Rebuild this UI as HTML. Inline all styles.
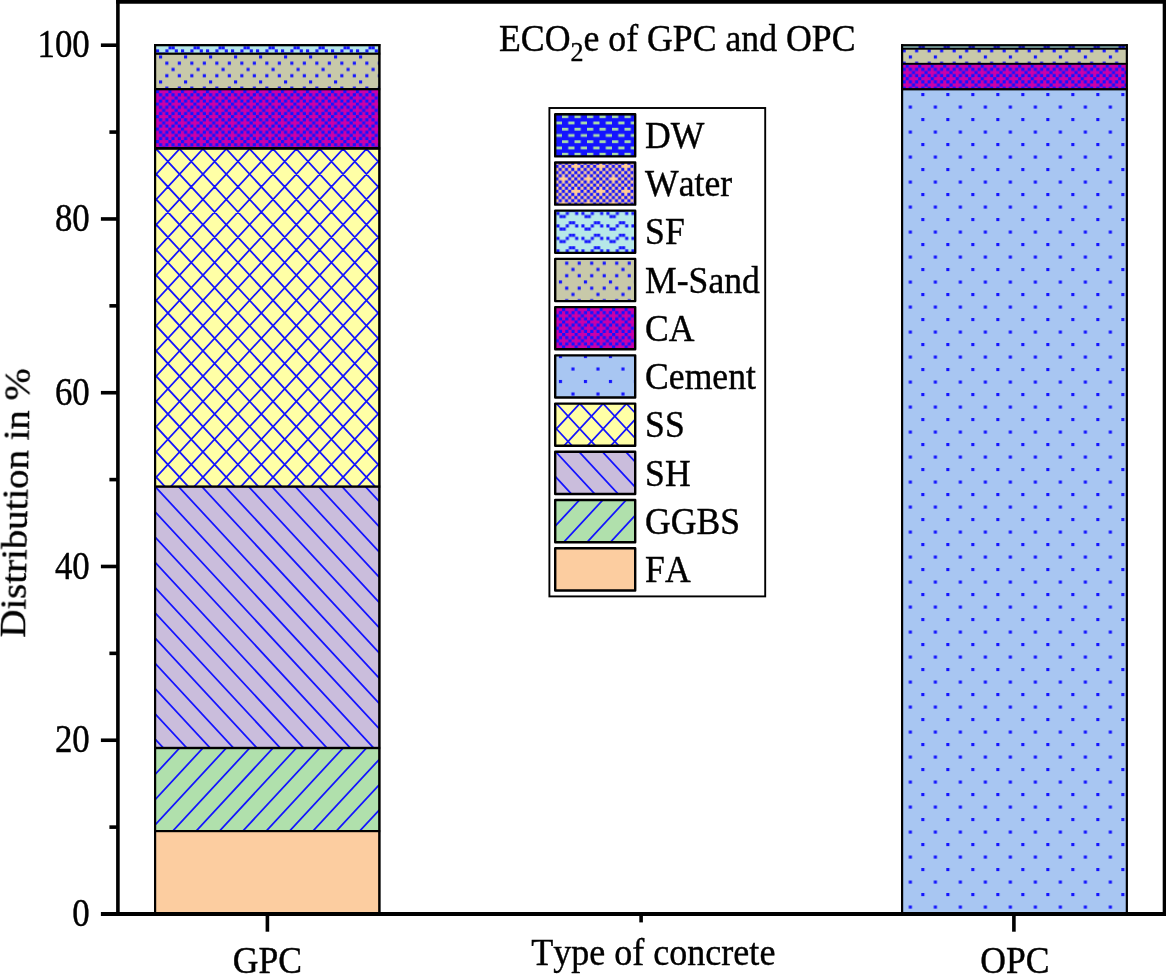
<!DOCTYPE html>
<html lang="en"><head><meta charset="utf-8"><title>ECO2e of GPC and OPC</title>
<style>
html,body{margin:0;padding:0;background:#fff;overflow:hidden}
svg{display:block;font-family:"Liberation Serif",serif}
</style></head><body>
<svg width="1166" height="974" viewBox="0 0 1166 974">
<defs>
<pattern id="pMS" patternUnits="userSpaceOnUse" width="25" height="25"><rect width="25" height="25" fill="#c8c9a9"/><rect x="0.000" y="0.000" width="3.125" height="3.125" fill="#1414ff"/><rect x="6.250" y="6.250" width="3.125" height="3.125" fill="#1414ff"/><rect x="18.750" y="6.250" width="3.125" height="3.125" fill="#1414ff"/><rect x="12.500" y="12.500" width="3.125" height="3.125" fill="#1414ff"/><rect x="6.250" y="18.750" width="3.125" height="3.125" fill="#1414ff"/><rect x="18.750" y="18.750" width="3.125" height="3.125" fill="#1414ff"/></pattern>
<pattern id="pCA" patternUnits="userSpaceOnUse" width="12.5" height="12.5"><rect width="12.5" height="12.5" fill="#c800aa"/><rect x="0.000" y="0.000" width="3.125" height="3.125" fill="#1414ff"/><rect x="3.125" y="3.125" width="3.125" height="3.125" fill="#1414ff"/><rect x="9.375" y="3.125" width="3.125" height="3.125" fill="#1414ff"/><rect x="6.250" y="6.250" width="3.125" height="3.125" fill="#1414ff"/><rect x="3.125" y="9.375" width="3.125" height="3.125" fill="#1414ff"/><rect x="9.375" y="9.375" width="3.125" height="3.125" fill="#1414ff"/></pattern>
<pattern id="pCE" patternUnits="userSpaceOnUse" width="25" height="25"><rect width="25" height="25" fill="#a8c6f2"/><rect x="0.000" y="0.000" width="3.125" height="3.125" fill="#1414ff"/><rect x="12.500" y="12.500" width="3.125" height="3.125" fill="#1414ff"/></pattern>
<pattern id="pDW" patternUnits="userSpaceOnUse" width="12.5" height="12.5"><rect width="12.5" height="12.5" fill="#1414ff"/><rect x="0" y="0" width="6.25" height="2.812" fill="#a9dba7"/><rect x="6.25" y="6.25" width="6.25" height="2.812" fill="#a9dba7"/></pattern>
<pattern id="pWA" patternUnits="userSpaceOnUse" width="25" height="25"><rect width="25" height="25" fill="#fdcb98"/><rect x="6.250" y="0.000" width="3.125" height="3.125" fill="#1414ff"/><rect x="12.500" y="0.000" width="3.125" height="3.125" fill="#1414ff"/><rect x="18.750" y="0.000" width="3.125" height="3.125" fill="#1414ff"/><rect x="3.125" y="3.125" width="3.125" height="3.125" fill="#1414ff"/><rect x="9.375" y="3.125" width="3.125" height="3.125" fill="#1414ff"/><rect x="15.625" y="3.125" width="3.125" height="3.125" fill="#1414ff"/><rect x="21.875" y="3.125" width="3.125" height="3.125" fill="#1414ff"/><rect x="0.000" y="6.250" width="3.125" height="3.125" fill="#1414ff"/><rect x="6.250" y="6.250" width="3.125" height="3.125" fill="#1414ff"/><rect x="12.500" y="6.250" width="3.125" height="3.125" fill="#1414ff"/><rect x="18.750" y="6.250" width="3.125" height="3.125" fill="#1414ff"/><rect x="3.125" y="9.375" width="3.125" height="3.125" fill="#1414ff"/><rect x="9.375" y="9.375" width="3.125" height="3.125" fill="#1414ff"/><rect x="15.625" y="9.375" width="3.125" height="3.125" fill="#1414ff"/><rect x="21.875" y="9.375" width="3.125" height="3.125" fill="#1414ff"/><rect x="0.000" y="12.500" width="3.125" height="3.125" fill="#1414ff"/><rect x="6.250" y="12.500" width="3.125" height="3.125" fill="#1414ff"/><rect x="18.750" y="12.500" width="3.125" height="3.125" fill="#1414ff"/><rect x="3.125" y="15.625" width="3.125" height="3.125" fill="#1414ff"/><rect x="9.375" y="15.625" width="3.125" height="3.125" fill="#1414ff"/><rect x="15.625" y="15.625" width="3.125" height="3.125" fill="#1414ff"/><rect x="21.875" y="15.625" width="3.125" height="3.125" fill="#1414ff"/><rect x="0.000" y="18.750" width="3.125" height="3.125" fill="#1414ff"/><rect x="6.250" y="18.750" width="3.125" height="3.125" fill="#1414ff"/><rect x="12.500" y="18.750" width="3.125" height="3.125" fill="#1414ff"/><rect x="18.750" y="18.750" width="3.125" height="3.125" fill="#1414ff"/><rect x="3.125" y="21.875" width="3.125" height="3.125" fill="#1414ff"/><rect x="9.375" y="21.875" width="3.125" height="3.125" fill="#1414ff"/><rect x="15.625" y="21.875" width="3.125" height="3.125" fill="#1414ff"/><rect x="21.875" y="21.875" width="3.125" height="3.125" fill="#1414ff"/></pattern>
<pattern id="pSF" patternUnits="userSpaceOnUse" width="25" height="12.5"><rect width="25" height="12.5" fill="#b6e8e8"/><rect x="12.500" y="0.000" width="3.125" height="3.125" fill="#1414ff"/><rect x="15.625" y="0.000" width="3.125" height="3.125" fill="#1414ff"/><rect x="0.000" y="3.125" width="3.125" height="3.125" fill="#1414ff"/><rect x="9.375" y="3.125" width="3.125" height="3.125" fill="#1414ff"/><rect x="18.750" y="3.125" width="3.125" height="3.125" fill="#1414ff"/><rect x="3.125" y="6.250" width="3.125" height="3.125" fill="#1414ff"/><rect x="6.250" y="6.250" width="3.125" height="3.125" fill="#1414ff"/></pattern>
<pattern id="pSFd" patternUnits="userSpaceOnUse" width="25" height="12.5"><rect width="25" height="12.5" fill="#6f9090"/><rect x="12.500" y="0.000" width="3.125" height="3.125" fill="#10109a"/><rect x="15.625" y="0.000" width="3.125" height="3.125" fill="#10109a"/><rect x="0.000" y="3.125" width="3.125" height="3.125" fill="#10109a"/><rect x="9.375" y="3.125" width="3.125" height="3.125" fill="#10109a"/><rect x="18.750" y="3.125" width="3.125" height="3.125" fill="#10109a"/><rect x="3.125" y="6.250" width="3.125" height="3.125" fill="#10109a"/><rect x="6.250" y="6.250" width="3.125" height="3.125" fill="#10109a"/></pattern>
<clipPath id="clip1"><rect x="155.10" y="748.00" width="224.30" height="83.10"/></clipPath>
<clipPath id="clip2"><rect x="155.10" y="486.60" width="224.30" height="261.40"/></clipPath>
<clipPath id="clip3"><rect x="155.10" y="148.40" width="224.30" height="338.20"/></clipPath>
<pattern id="pCA_1" href="#pCA" patternTransform="translate(155.90 90.10)"/>
<pattern id="pMS_2" href="#pMS" patternTransform="translate(159.03 55.40)"/>
<pattern id="pSF_3" href="#pSF" patternTransform="translate(156.00 46.30)"/>
<pattern id="pCE_4" href="#pCE" patternTransform="translate(921.30 93.00)"/>
<pattern id="pCA_5" href="#pCA" patternTransform="translate(905.70 64.70)"/>
<pattern id="pMS_6" href="#pMS" patternTransform="translate(908.84 55.44)"/>
<pattern id="pSFd_7" href="#pSFd" patternTransform="translate(906.10 46.00)"/>
<pattern id="pDW_8" href="#pDW" patternTransform="translate(562.00 115.30)"/>
<pattern id="pWA_9" href="#pWA" patternTransform="translate(574.30 164.77)"/>
<pattern id="pSF_10" href="#pSF" patternTransform="translate(556.40 208.73)"/>
<pattern id="pMS_11" href="#pMS" patternTransform="translate(558.90 255.39)"/>
<pattern id="pCA_12" href="#pCA" patternTransform="translate(562.10 307.97)"/>
<pattern id="pCE_13" href="#pCE" patternTransform="translate(558.90 354.95)"/>
<clipPath id="clip4"><rect x="555.20" y="403.58" width="80.00" height="42.20"/></clipPath>
<clipPath id="clip5"><rect x="555.20" y="451.81" width="80.00" height="42.20"/></clipPath>
<clipPath id="clip6"><rect x="555.20" y="500.04" width="80.00" height="42.20"/></clipPath>
</defs>
<rect width="1166" height="974" fill="#fff"/>
<rect x="155.10" y="831.10" width="224.30" height="82.90" fill="#fccda0"/>
<rect x="155.10" y="748.00" width="224.30" height="83.10" fill="#b0e0ac"/>
<path clip-path="url(#clip1)" d="M155.10 749.19L379.40 506.74M155.10 774.44L379.40 531.99M155.10 799.69L379.40 557.24M155.10 824.94L379.40 582.49M155.10 850.19L379.40 607.74M155.10 875.44L379.40 632.99M155.10 900.69L379.40 658.24M155.10 925.94L379.40 683.49M155.10 951.19L379.40 708.74M155.10 976.44L379.40 733.99M155.10 1001.69L379.40 759.24M155.10 1026.94L379.40 784.49M155.10 1052.19L379.40 809.74" stroke="#1414ff" stroke-width="1.75" fill="none"/>
<rect x="155.10" y="486.60" width="224.30" height="261.40" fill="#cabddc"/>
<path clip-path="url(#clip2)" d="M155.10 259.26L379.40 501.71M155.10 284.51L379.40 526.96M155.10 309.76L379.40 552.21M155.10 335.01L379.40 577.46M155.10 360.26L379.40 602.71M155.10 385.51L379.40 627.96M155.10 410.76L379.40 653.21M155.10 436.01L379.40 678.46M155.10 461.26L379.40 703.71M155.10 486.51L379.40 728.96M155.10 511.76L379.40 754.21M155.10 537.01L379.40 779.46M155.10 562.26L379.40 804.71M155.10 587.51L379.40 829.96M155.10 612.76L379.40 855.21M155.10 638.01L379.40 880.46M155.10 663.26L379.40 905.71M155.10 688.51L379.40 930.96M155.10 713.76L379.40 956.21M155.10 739.01L379.40 981.46" stroke="#1414ff" stroke-width="1.75" fill="none"/>
<rect x="155.10" y="148.40" width="224.30" height="338.20" fill="#ffffa6"/>
<path clip-path="url(#clip3)" d="M155.10 -79.54L379.40 162.91M155.10 -54.29L379.40 188.16M155.10 -29.04L379.40 213.41M155.10 -3.79L379.40 238.66M155.10 21.46L379.40 263.91M155.10 46.71L379.40 289.16M155.10 71.96L379.40 314.41M155.10 97.21L379.40 339.66M155.10 122.46L379.40 364.91M155.10 147.71L379.40 390.16M155.10 172.96L379.40 415.41M155.10 198.21L379.40 440.66M155.10 223.46L379.40 465.91M155.10 248.71L379.40 491.16M155.10 273.96L379.40 516.41M155.10 299.21L379.40 541.66M155.10 324.46L379.40 566.91M155.10 349.71L379.40 592.16M155.10 374.96L379.40 617.41M155.10 400.21L379.40 642.66M155.10 425.46L379.40 667.91M155.10 450.71L379.40 693.16M155.10 475.96L379.40 718.41M155.10 150.09L379.40 -92.36M155.10 175.34L379.40 -67.11M155.10 200.59L379.40 -41.86M155.10 225.84L379.40 -16.61M155.10 251.09L379.40 8.64M155.10 276.34L379.40 33.89M155.10 301.59L379.40 59.14M155.10 326.84L379.40 84.39M155.10 352.09L379.40 109.64M155.10 377.34L379.40 134.89M155.10 402.59L379.40 160.14M155.10 427.84L379.40 185.39M155.10 453.09L379.40 210.64M155.10 478.34L379.40 235.89M155.10 503.59L379.40 261.14M155.10 528.84L379.40 286.39M155.10 554.09L379.40 311.64M155.10 579.34L379.40 336.89M155.10 604.59L379.40 362.14M155.10 629.84L379.40 387.39M155.10 655.09L379.40 412.64M155.10 680.34L379.40 437.89M155.10 705.59L379.40 463.14M155.10 730.84L379.40 488.39" stroke="#1414ff" stroke-width="1.75" fill="none"/>
<rect x="155.10" y="89.15" width="224.30" height="59.25" fill="url(#pCA_1)"/>
<rect x="155.10" y="53.70" width="224.30" height="35.45" fill="url(#pMS_2)"/>
<rect x="155.10" y="45.15" width="224.30" height="8.55" fill="url(#pSF_3)"/>
<rect x="154.40" y="830.00" width="225.85" height="2.20" fill="#000"/>
<rect x="154.40" y="746.80" width="225.85" height="2.40" fill="#000"/>
<rect x="154.40" y="485.40" width="225.85" height="2.40" fill="#000"/>
<rect x="154.40" y="147.00" width="225.85" height="2.80" fill="#000"/>
<rect x="154.40" y="88.00" width="225.85" height="2.30" fill="#000"/>
<rect x="154.40" y="52.60" width="225.85" height="2.20" fill="#000"/>
<rect x="154.40" y="44.00" width="225.85" height="2.30" fill="#000"/>
<rect x="154.00" y="44.00" width="2.20" height="870.00" fill="#000"/>
<rect x="378.15" y="44.00" width="2.50" height="870.00" fill="#000"/>
<rect x="902.10" y="89.25" width="224.75" height="824.75" fill="url(#pCE_4)"/>
<rect x="902.10" y="63.80" width="224.75" height="25.45" fill="url(#pCA_5)"/>
<rect x="902.10" y="48.85" width="224.75" height="14.95" fill="url(#pMS_6)"/>
<rect x="902.10" y="45.10" width="224.75" height="3.75" fill="url(#pSFd_7)"/>
<rect x="901.40" y="88.10" width="226.15" height="2.30" fill="#000"/>
<rect x="901.40" y="62.85" width="226.15" height="1.90" fill="#000"/>
<rect x="901.40" y="48.00" width="226.15" height="1.70" fill="#000"/>
<rect x="901.40" y="44.10" width="226.15" height="2.00" fill="#000"/>
<rect x="901.00" y="44.10" width="2.20" height="869.90" fill="#000"/>
<rect x="1125.75" y="44.10" width="2.20" height="869.90" fill="#000"/>
<g stroke="#000" stroke-width="3.6" fill="none" stroke-linecap="butt">
<path d="M117.9 0V915.8"/>
<path d="M116.1 1.9H1166"/>
<path d="M1164.5 0V915.8"/>
<path d="M100.9 913.9H1166" stroke-width="4"/>
<path d="M100.9 740.24H117"/>
<path d="M100.9 566.48H117"/>
<path d="M100.9 392.72H117"/>
<path d="M100.9 218.96H117"/>
<path d="M100.9 45.20H117"/>
<path d="M109.4 827.12H117"/>
<path d="M109.4 653.36H117"/>
<path d="M109.4 479.60H117"/>
<path d="M109.4 305.84H117"/>
<path d="M109.4 132.08H117"/>
<path d="M267.4 914V931.7"/>
<path d="M1013.9 914V931.7"/>
<path d="M641.1 914V922.4"/>
</g>
<g font-family="'Liberation Serif', serif" fill="#000" stroke="#000" stroke-width="0.4" opacity="0.999" style="font-kerning:none;font-variant-ligatures:none">
<text transform="translate(89.70 926.20) scale(1 1.13)" font-size="34.8" text-anchor="end" >0</text>
<text transform="translate(89.70 752.44) scale(1 1.13)" font-size="34.8" text-anchor="end" >20</text>
<text transform="translate(89.70 578.68) scale(1 1.13)" font-size="34.8" text-anchor="end" >40</text>
<text transform="translate(89.70 404.92) scale(1 1.13)" font-size="34.8" text-anchor="end" >60</text>
<text transform="translate(89.70 231.16) scale(1 1.13)" font-size="34.8" text-anchor="end" >80</text>
<text transform="translate(89.70 57.40) scale(1 1.13)" font-size="34.8" text-anchor="end" >100</text>
<text transform="translate(499.00 50.50) scale(1 1.05)" font-size="35.75" text-anchor="start" >ECO<tspan font-size="26" dy="10.2">2</tspan><tspan dy="-10.2">e of GPC and OPC</tspan></text>
<text transform="translate(267.40 973.20) scale(1 1.05)" font-size="35.6" text-anchor="middle" >GPC</text>
<text transform="translate(1014.90 973.20) scale(1 1.05)" font-size="35.6" text-anchor="middle" >OPC</text>
<text transform="translate(653.30 964.80) scale(1 1.05)" font-size="36.05" text-anchor="middle" >Type of concrete</text>
<text transform="translate(27.1 503) rotate(-88.93) scale(1 0.935)" font-size="38.8" text-anchor="middle">Distribution in %</text>
<text transform="translate(645.10 147.70) scale(1 1.05)" font-size="35.6" text-anchor="start" >DW</text>
<text transform="translate(645.10 195.99) scale(1 1.05)" font-size="35.6" text-anchor="start" >Water</text>
<text transform="translate(645.10 244.28) scale(1 1.05)" font-size="35.6" text-anchor="start" >SF</text>
<text transform="translate(645.10 292.57) scale(1 1.05)" font-size="35.6" text-anchor="start" >M-Sand</text>
<text transform="translate(645.10 340.86) scale(1 1.05)" font-size="35.6" text-anchor="start" >CA</text>
<text transform="translate(645.10 389.15) scale(1 1.05)" font-size="35.6" text-anchor="start" >Cement</text>
<text transform="translate(645.10 437.44) scale(1 1.05)" font-size="35.6" text-anchor="start" >SS</text>
<text transform="translate(645.10 485.73) scale(1 1.05)" font-size="35.6" text-anchor="start" >SH</text>
<text transform="translate(645.10 534.02) scale(1 1.05)" font-size="35.6" text-anchor="start" >GGBS</text>
<text transform="translate(645.10 582.31) scale(1 1.05)" font-size="35.6" text-anchor="start" >FA</text>
</g>
<rect x="549.4" y="108.0" width="215.8" height="488.4" fill="none" stroke="#000" stroke-width="1.9"/>
<rect x="555.20" y="114.20" width="80.00" height="42.20" fill="url(#pDW_8)"/>
<rect x="555.20" y="114.20" width="80.00" height="42.20" fill="none" stroke="#000" stroke-width="2.4" stroke-linejoin="round"/>
<rect x="555.20" y="162.43" width="80.00" height="42.20" fill="url(#pWA_9)"/>
<rect x="555.20" y="162.43" width="80.00" height="42.20" fill="none" stroke="#000" stroke-width="2.4" stroke-linejoin="round"/>
<rect x="555.20" y="210.66" width="80.00" height="42.20" fill="url(#pSF_10)"/>
<rect x="555.20" y="210.66" width="80.00" height="42.20" fill="none" stroke="#000" stroke-width="2.4" stroke-linejoin="round"/>
<rect x="555.20" y="258.89" width="80.00" height="42.20" fill="url(#pMS_11)"/>
<rect x="555.20" y="258.89" width="80.00" height="42.20" fill="none" stroke="#000" stroke-width="2.4" stroke-linejoin="round"/>
<rect x="555.20" y="307.12" width="80.00" height="42.20" fill="url(#pCA_12)"/>
<rect x="555.20" y="307.12" width="80.00" height="42.20" fill="none" stroke="#000" stroke-width="2.4" stroke-linejoin="round"/>
<rect x="555.20" y="355.35" width="80.00" height="42.20" fill="url(#pCE_13)"/>
<rect x="555.20" y="355.35" width="80.00" height="42.20" fill="none" stroke="#000" stroke-width="2.4" stroke-linejoin="round"/>
<rect x="555.20" y="403.58" width="80.00" height="42.20" fill="#ffffa6"/>
<path clip-path="url(#clip4)" d="M555.20 326.53L635.20 413.01M555.20 351.78L635.20 438.26M555.20 377.03L635.20 463.51M555.20 402.28L635.20 488.76M555.20 427.53L635.20 514.01M555.20 404.88L635.20 318.40M555.20 430.13L635.20 343.65M555.20 455.38L635.20 368.90M555.20 480.63L635.20 394.15M555.20 505.88L635.20 419.40M555.20 531.13L635.20 444.65" stroke="#1414ff" stroke-width="1.75" fill="none"/>
<rect x="555.20" y="403.58" width="80.00" height="42.20" fill="none" stroke="#000" stroke-width="2.4" stroke-linejoin="round"/>
<rect x="555.20" y="451.81" width="80.00" height="42.20" fill="#cabddc"/>
<path clip-path="url(#clip5)" d="M555.20 375.46L635.20 461.94M555.20 400.71L635.20 487.19M555.20 425.96L635.20 512.44M555.20 451.21L635.20 537.69M555.20 476.46L635.20 562.94" stroke="#1414ff" stroke-width="1.75" fill="none"/>
<rect x="555.20" y="451.81" width="80.00" height="42.20" fill="none" stroke="#000" stroke-width="2.4" stroke-linejoin="round"/>
<rect x="555.20" y="500.04" width="80.00" height="42.20" fill="#b0e0ac"/>
<path clip-path="url(#clip6)" d="M555.20 500.94L635.20 414.46M555.20 526.19L635.20 439.71M555.20 551.44L635.20 464.96M555.20 576.69L635.20 490.21M555.20 601.94L635.20 515.46M555.20 627.19L635.20 540.71" stroke="#1414ff" stroke-width="1.75" fill="none"/>
<rect x="555.20" y="500.04" width="80.00" height="42.20" fill="none" stroke="#000" stroke-width="2.4" stroke-linejoin="round"/>
<rect x="555.20" y="548.27" width="80.00" height="42.20" fill="#fccda0"/>
<rect x="555.20" y="548.27" width="80.00" height="42.20" fill="none" stroke="#000" stroke-width="2.4" stroke-linejoin="round"/>
</svg>
</body></html>
